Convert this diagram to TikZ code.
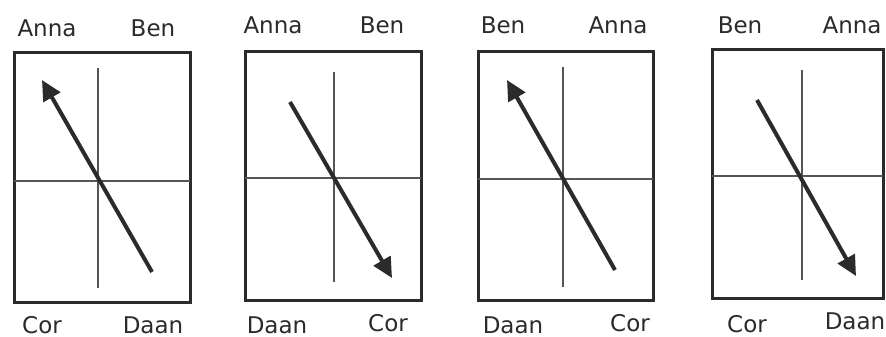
\documentclass[tikz,border=0pt]{standalone}
\usepackage{fontspec}
\setmainfont{DejaVu Sans}
\usetikzlibrary{arrows.meta}
\definecolor{ink}{HTML}{2B2B2B}
\definecolor{thin}{HTML}{555555}
\tikzset{
  frame/.style={draw=ink, line width=3pt},
  axis/.style={draw=thin, line width=1.3pt},
  pointer/.style={draw=ink, line width=4pt, -{Triangle[length=20pt,width=19pt]}},
  personlabel/.style={font=\fontsize{23}{26}\selectfont, text=ink, inner sep=0pt, text depth=0pt, anchor=base},
}
\begin{document}
\begin{tikzpicture}[x=1pt,y=-1pt]
\fill[white] (0,0) rectangle (886,337);
\useasboundingbox (0,0) rectangle (886,337);
% panel 1
\draw[frame] (14,53) rectangle (190,302);
\draw[axis] (14,181) -- (190,181);
\draw[axis] (98,68) -- (98,288);
\coordinate (s1) at (152,272);
\coordinate (e1) at (42,80);
\draw[pointer] (s1) -- (e1);
\node[personlabel] (a1) at (47,37) {Anna};
\node[personlabel] (b1) at (153,37) {Ben};
\node[personlabel] (c1) at (42,333) {Cor};
\node[personlabel] (d1) at (153,333) {Daan};
% panel 2
\draw[frame] (245,52) rectangle (421,300);
\draw[axis] (245,178) -- (421,178);
\draw[axis] (334,72) -- (334,282);
\coordinate (s2) at (290,102);
\coordinate (e2) at (392,278);
\draw[pointer] (s2) -- (e2);
\node[personlabel] (a2) at (273,34) {Anna};
\node[personlabel] (b2) at (382,34) {Ben};
\node[personlabel] (d2) at (277,333) {Daan};
\node[personlabel] (c2) at (388,331) {Cor};
% panel 3
\draw[frame] (478,52) rectangle (653,300);
\draw[axis] (478,179) -- (653,179);
\draw[axis] (563,67) -- (563,287);
\coordinate (s3) at (615,270);
\coordinate (e3) at (507,80);
\draw[pointer] (s3) -- (e3);
\node[personlabel] (b3) at (503,34) {Ben};
\node[personlabel] (a3) at (618,34) {Anna};
\node[personlabel] (d3) at (513,333) {Daan};
\node[personlabel] (c3) at (630,331) {Cor};
% panel 4
\draw[frame] (712,50) rectangle (883,298);
\draw[axis] (712,176) -- (883,176);
\draw[axis] (802,70) -- (802,280);
\coordinate (s4) at (757,100);
\coordinate (e4) at (856,276);
\draw[pointer] (s4) -- (e4);
\node[personlabel] (b4) at (740,34) {Ben};
\node[personlabel] (a4) at (852,34) {Anna};
\node[personlabel] (c4) at (747,332) {Cor};
\node[personlabel] (d4) at (855,329) {Daan};
\end{tikzpicture}
\end{document}
